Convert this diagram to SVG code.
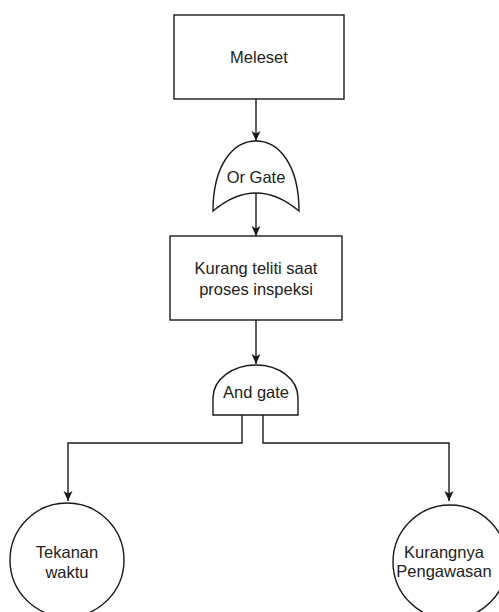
<svg xmlns="http://www.w3.org/2000/svg" width="499" height="612" viewBox="0 0 499 612">
  <style>
    .shape { fill: #ffffff; stroke: #1a1a1a; stroke-width: 1.4; }
    .edge { fill: none; stroke: #1a1a1a; stroke-width: 1.4; }
    .label { font-family: "Liberation Sans", Arial, sans-serif; font-size: 16.5px; fill: #222222; text-anchor: middle; }
  </style>
  <defs>
    <marker id="arrow" viewBox="0 0 10 10" refX="10" refY="5" markerWidth="10" markerHeight="10" markerUnits="userSpaceOnUse" orient="auto">
      <path d="M0,0.5 L10,5 L0,9.5 L2.5,5 Z" fill="#1a1a1a"/>
    </marker>
  </defs>
  <rect width="499" height="612" fill="#ffffff"/>

  <g id="connectors">
    <path class="edge" d="M256,99 V141" marker-end="url(#arrow)"/>
    <path class="edge" d="M256,193 V236" marker-end="url(#arrow)"/>
    <path class="edge" d="M256,320 V364" marker-end="url(#arrow)"/>
    <path class="edge" d="M242,415 V443 H68 V501" marker-end="url(#arrow)"/>
    <path class="edge" d="M263,415 V443 H449 V501" marker-end="url(#arrow)"/>
  </g>

  <g id="meleset">
    <rect class="shape" x="174" y="15" width="170" height="84"/>
    <text class="label" x="259" y="63">Meleset</text>
  </g>

  <g id="or-gate">
    <path class="shape" d="M213,211 C213,165 233,141 256,141 C279,141 299,165 299,211 Q256,175 213,211 Z"/>
    <text class="label" x="256" y="183">Or Gate</text>
  </g>

  <g id="kurang-teliti">
    <rect class="shape" x="170" y="236" width="172" height="84"/>
    <text class="label" x="256" y="274">Kurang teliti saat</text>
    <text class="label" x="256" y="295">proses inspeksi</text>
  </g>

  <g id="and-gate">
    <path class="shape" d="M213,415 L213,398 C213,379 233,365 256,365 C279,365 298,379 298,398 L298,415 Z"/>
    <text class="label" x="256" y="398">And gate</text>
  </g>

  <g id="tekanan-waktu">
    <circle class="shape" cx="67" cy="560" r="57"/>
    <text class="label" x="67" y="558">Tekanan</text>
    <text class="label" x="67" y="578">waktu</text>
  </g>

  <g id="kurangnya-pengawasan">
    <circle class="shape" cx="450" cy="562" r="57"/>
    <text class="label" x="444" y="558">Kurangnya</text>
    <text class="label" x="444" y="577">Pengawasan</text>
  </g>
</svg>
